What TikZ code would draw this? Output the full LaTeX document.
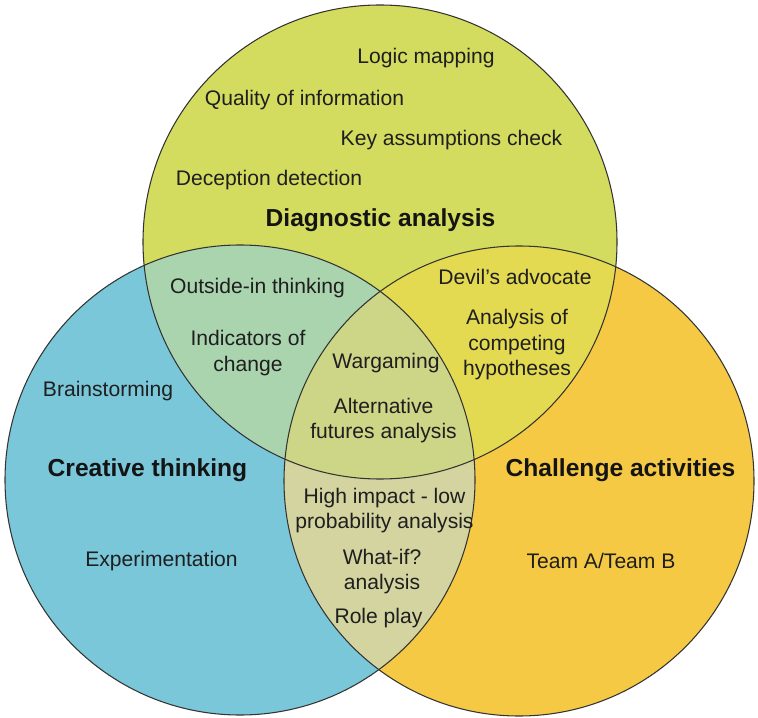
\documentclass[tikz,border=0pt]{standalone}
\usepackage{fontspec}
\setmainfont{Liberation Sans}
\definecolor{diagcol}{HTML}{D3DC5E}
\definecolor{creacol}{HTML}{7AC7D9}
\definecolor{challcol}{HTML}{F5C944}
\definecolor{diagcrea}{HTML}{A9D4AE}
\definecolor{diagchall}{HTML}{E3DA52}
\definecolor{creachall}{HTML}{D3D49F}
\definecolor{allcol}{HTML}{CDD686}

\begin{document}
\begin{tikzpicture}[
    lbl/.style={font=\fontsize{12}{14.5}\selectfont,align=center,text=black!88},
    ttl/.style={font=\fontsize{14}{17}\selectfont\bfseries,text=black!92},
    rim/.style={draw=black!80,line width=0.6pt}]
    \useasboundingbox (0,0) rectangle (15.16,14.34);
    % circle centres
    \coordinate (cDiag) at (7.6,9.5);
    \coordinate (cCrea) at (4.8,4.74);
    \coordinate (cChall) at (10.38,4.72);
    \def\rDiag{4.74}
    \def\rLow{4.7}
    % plain fills
    \fill[diagcol] (cDiag) circle[radius=\rDiag];
    \fill[creacol] (cCrea) circle[radius=\rLow];
    \fill[challcol] (cChall) circle[radius=\rLow];
    % overlaps
    \begin{scope}
        \clip (cDiag) circle[radius=\rDiag];
        \fill[diagcrea] (cCrea) circle[radius=\rLow];
        \fill[diagchall] (cChall) circle[radius=\rLow];
    \end{scope}
    \begin{scope}
        \clip (cCrea) circle[radius=\rLow];
        \fill[creachall] (cChall) circle[radius=\rLow];
        \clip (cChall) circle[radius=\rLow];
        \fill[allcol] (cDiag) circle[radius=\rDiag];
    \end{scope}
    % outlines
    \draw[rim] (cDiag) circle[radius=\rDiag];
    \draw[rim] (cCrea) circle[radius=\rLow];
    \draw[rim] (cChall) circle[radius=\rLow];

    % diagnostic analysis
    \node[lbl] (logic) at (8.52,13.18) {Logic mapping};
    \node[lbl] (quality) at (6.09,12.34) {Quality of information};
    \node[lbl] (keyass) at (9.03,11.54) {Key assumptions check};
    \node[lbl] (decept) at (5.38,10.74) {Deception detection};
    \node[ttl] (diagttl) at (7.61,9.94) {Diagnostic analysis};
    % diagnostic + creative
    \node[lbl] (outside) at (5.15,8.58) {Outside-in thinking};
    \node[lbl] (indic) at (4.96,7.28) {Indicators of\\change};
    % diagnostic + challenge
    \node[lbl] (devil) at (10.3,8.8) {Devil's advocate};
    \node[lbl] (ach) at (10.34,7.44) {Analysis of\\competing\\hypotheses};
    % all three
    \node[lbl] (wargame) at (7.72,7.08) {Wargaming};
    \node[lbl] (altfut) at (7.67,5.93) {Alternative\\futures analysis};
    % creative thinking
    \node[lbl] (brain) at (2.16,6.52) {Brainstorming};
    \node[ttl] (creattl) at (2.95,4.94) {Creative thinking};
    \node[lbl] (experim) at (3.23,3.12) {Experimentation};
    % challenge activities
    \node[ttl] (challttl) at (12.41,4.94) {Challenge activities};
    \node[lbl] (teamab) at (12.02,3.12) {Team A/Team B};
    % creative + challenge
    \node[lbl] (highimp) at (7.69,4.13) {High impact - low\\probability analysis};
    \node[lbl] (whatif) at (7.64,2.91) {What-if?\\analysis};
    \node[lbl] (role) at (7.57,1.98) {Role play};
\end{tikzpicture}
\end{document}
